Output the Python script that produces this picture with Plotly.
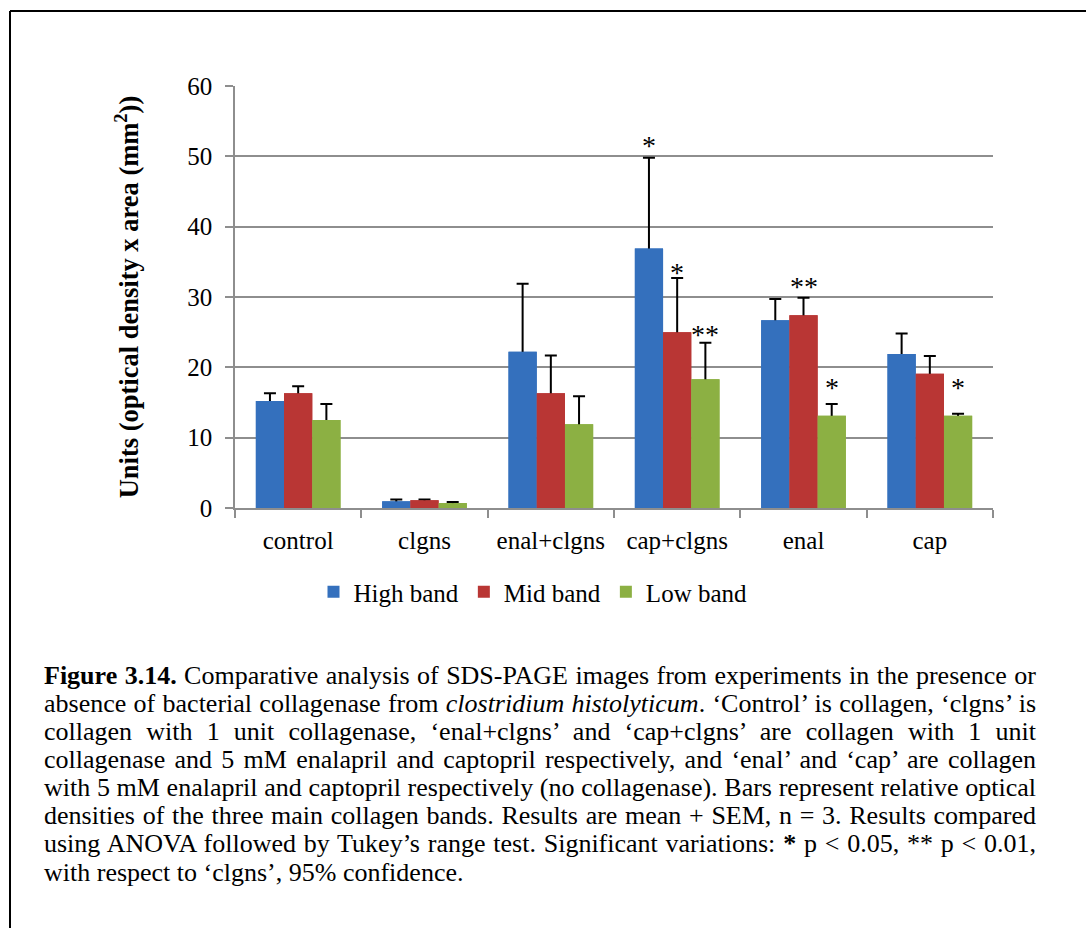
import plotly.graph_objects as go

# ---- data -------------------------------------------------------------
categories = ["control", "clgns", "enal+clgns", "cap+clgns", "enal", "cap"]
bands = ["High band", "Mid band", "Low band"]

high_mean = [15.2, 0.95, 22.2, 36.9, 26.7, 21.9]
high_sem = [1.1, 0.25, 9.7, 12.9, 3.0, 2.9]
mid_mean = [16.3, 1.1, 16.3, 25.0, 27.4, 19.1]
mid_sem = [1.0, 0.1, 5.4, 7.7, 2.5, 2.5]
low_mean = [12.5, 0.7, 11.9, 18.3, 13.1, 13.1]
low_sem = [2.3, 0.15, 4.0, 5.2, 1.7, 0.3]

# significance marks: (category, band index, label, label height in axis units)
sig_cats = ["cap+clgns", "cap+clgns", "cap+clgns", "enal", "enal", "cap"]
sig_band = [0, 1, 2, 1, 2, 2]
sig_text = ["*", "*", "**", "**", "*", "*"]
sig_y = [51.5, 33.5, 24.6, 31.5, 17.2, 17.2]

ITALIC = "<span style=\"font-family:'Liberation Serif';font-style:italic\">%s</span>"
caption_lines = [
    "<b>Figure 3.14.</b> Comparative analysis of SDS-PAGE images from experiments in the presence or",
    "absence of bacterial collagenase from " + ITALIC % "clostridium histolyticum"
    + ". ‘Control’ is collagen, ‘clgns’ is",
    "collagen with 1 unit collagenase, ‘enal+clgns’ and ‘cap+clgns’ are collagen with 1 unit",
    "collagenase and 5 mM enalapril and captopril respectively, and ‘enal’ and ‘cap’ are collagen",
    "with 5 mM enalapril and captopril respectively (no collagenase). Bars represent relative optical",
    "densities of the three main collagen bands. Results are mean + SEM, n = 3. Results compared",
    "using ANOVA followed by Tukey’s range test. Significant variations: <b>*</b> p &lt; 0.05, ** p &lt; 0.01,",
    "with respect to ‘clgns’, 95% confidence.",
]

# ---- styling ------------------------------------------------------------
W, H = 1086, 928
ML, MR, MT, MB = 235, 93, 86, 420
PW, PH = W - ML - MR, H - MT - MB
SERIF = "Liberation Serif"
GRID = "#8e8e8e"
colors = ["#3470bd", "#b93634", "#8cb043"]
BARGAP = 0.33
AXIS_FS = 25
CAPTION_FS = 26

means = [high_mean, mid_mean, low_mean]
sems = [high_sem, mid_sem, low_sem]


def px_x(p):
    return (p - ML) / PW


def px_y(p):
    return (H - MB - p) / PH


fig = go.Figure()

# bars carrying the (upper) error bars
for k in range(3):
    fig.add_trace(go.Bar(
        name=bands[k], x=categories, y=means[k], offsetgroup=str(k),
        marker=dict(color=colors[k], line=dict(width=0)),
        error_y=dict(type="data", symmetric=False, array=sems[k],
                     arrayminus=[0.6] * len(categories),
                     color="black", thickness=2, width=6),
    ))
# same bars again on top, hiding the lower part of each error bar
for k in range(3):
    fig.add_trace(go.Bar(
        name=bands[k], x=categories, y=means[k], offsetgroup=str(k),
        marker=dict(color=colors[k], line=dict(width=0)),
        showlegend=False, hoverinfo="skip",
    ))

bw = (1 - BARGAP) / 3
annotations = []
for c, b, t, yy in zip(sig_cats, sig_band, sig_text, sig_y):
    xi = categories.index(c) + (b - 1) * bw
    annotations.append(dict(x=xi, y=yy, xref="x", yref="y", text=t,
                            showarrow=False, yanchor="middle",
                            font=dict(family=SERIF, size=28, color="black")))

# caption block
LINE0, LSTEP = 683, 28.15
for i, line in enumerate(caption_lines):
    base = LINE0 + i * LSTEP
    annotations.append(dict(
        x=px_x(42), y=px_y(base - 8), xref="paper", yref="paper",
        text=line, showarrow=False, xanchor="left", yanchor="middle",
        align="left", font=dict(family=SERIF, size=CAPTION_FS, color="black")))

shapes = [
    # frame around the figure (left and top edges)
    dict(type="line", xref="paper", yref="paper",
         x0=px_x(10), x1=px_x(10), y0=px_y(11), y1=px_y(H + 5),
         line=dict(color="black", width=2)),
    dict(type="line", xref="paper", yref="paper",
         x0=px_x(10), x1=px_x(W + 5), y0=px_y(11), y1=px_y(11),
         line=dict(color="black", width=2)),
]

fig.update_layout(
    width=W, height=H,
    margin=dict(l=ML, r=MR, t=MT, b=MB, pad=0),
    paper_bgcolor="white", plot_bgcolor="white",
    barmode="group", bargap=BARGAP, bargroupgap=0,
    font=dict(family=SERIF, color="black"),
    showlegend=True,
    legend=dict(orientation="h", x=px_x(533), y=px_y(592),
                xanchor="center", yanchor="middle",
                font=dict(family=SERIF, size=AXIS_FS, color="black"),
                itemwidth=30, traceorder="normal"),
    annotations=annotations,
    shapes=shapes,
)
fig.update_xaxes(
    type="category", categoryorder="array", categoryarray=categories,
    showline=True, linecolor=GRID, linewidth=1.5,
    ticks="outside", tickson="boundaries", ticklen=8, tickcolor=GRID,
    tickwidth=1.5, ticklabelstandoff=9,
    tickfont=dict(family=SERIF, size=AXIS_FS, color="black"),
    showgrid=False, fixedrange=True,
)
fig.update_yaxes(
    range=[0, 60], dtick=10, tick0=0,
    showline=True, linecolor=GRID, linewidth=1.5,
    showgrid=True, gridcolor=GRID, gridwidth=1.5, zeroline=False,
    ticks="outside", ticklen=8, tickcolor=GRID, tickwidth=1.5,
    ticklabelstandoff=8,
    tickfont=dict(family=SERIF, size=AXIS_FS, color="black"),
    title=dict(text="<b>Units (optical density x area (mm<sup>2</sup>))</b>",
               font=dict(family=SERIF, size=26.5, color="black"), standoff=41),
    fixedrange=True,
)

# stretch the long caption lines to the full block width (justified text)
justify_js = """
var gd = document.getElementById('{plot_id}');
var target = %d;
gd.querySelectorAll('text.annotation-text').forEach(function (t) {
  var len = t.getComputedTextLength();
  var n = (t.textContent.match(/ /g) || []).length;
  if (len > 0.85 * target && len < target && n > 0) {
    t.style.wordSpacing = ((target - len) / n) + 'px';
  }
});
""" % (1034 - 42)

fig.write_html("out.html", post_script=justify_js)
